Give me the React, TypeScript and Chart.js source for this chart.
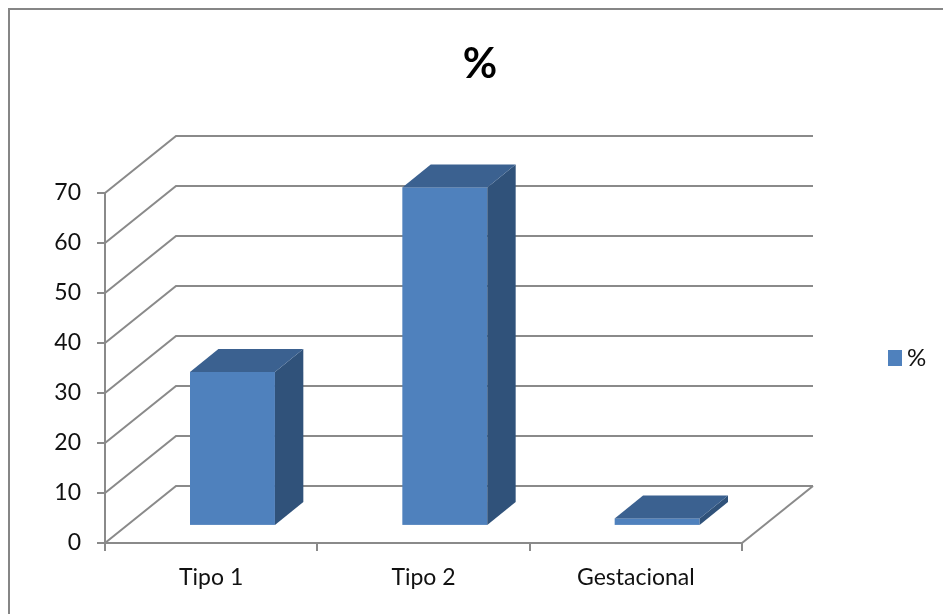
import React, { useEffect, useRef } from "react";
import { Chart, registerables } from "chart.js";

Chart.register(...registerables);

const categories = ["Tipo 1", "Tipo 2", "Gestacional"];
const seriesLabel = "%";
const seriesValues = [30.8, 67.7, 1.5];
const titleText = "%";
const yMin = 0;
const yMax = 70;
const yStep = 10;

const FONT = "Lato, 'Open Sans', sans-serif";
const DX = 71;
const DY = -57;
const GRID = "#8a8a8a";
const FRONT = "#4f81bd";
const TOP = "#3b6190";
const SIDE = "#30527a";

const threeD = {
  id: "threeD",
  beforeDraw(chart: any) {
    const ctx = chart.ctx;
    ctx.save();
    ctx.fillStyle = "#ffffff";
    ctx.fillRect(0, 0, chart.width, chart.height);
    ctx.strokeStyle = "#868686";
    ctx.lineWidth = 2;
    ctx.beginPath();
    ctx.moveTo(9, chart.height + 5);
    ctx.lineTo(9, 9);
    ctx.lineTo(chart.width + 5, 9);
    ctx.stroke();
    ctx.restore();
  },
  beforeDatasetsDraw(chart: any) {
    const ctx = chart.ctx;
    const ys = chart.scales.y;
    const { left, right, bottom } = chart.chartArea;
    ctx.save();
    ctx.strokeStyle = GRID;
    ctx.lineWidth = 2;
    ys.ticks.forEach((t: any) => {
      const yf = ys.getPixelForValue(t.value);
      ctx.beginPath();
      ctx.moveTo(left, yf);
      ctx.lineTo(left + DX, yf + DY);
      ctx.lineTo(right + DX, yf + DY);
      ctx.stroke();
    });
    ctx.beginPath();
    ctx.moveTo(right, bottom);
    ctx.lineTo(right + DX, bottom + DY);
    ctx.stroke();
    ctx.restore();
  },
  afterDatasetsDraw(chart: any) {
    const ctx = chart.ctx;
    const meta = chart.getDatasetMeta(0);
    const f0x = DX * 0.3, f0y = DY * 0.3;
    const bdx = DX * 0.4, bdy = DY * 0.4;
    ctx.save();
    meta.data.forEach((bar: any) => {
      const w = bar.width;
      const x0 = bar.x - w / 2 + f0x;
      const x1 = bar.x + w / 2 + f0x;
      const yt = bar.y + f0y;
      const yb = bar.base + f0y;
      ctx.fillStyle = FRONT;
      ctx.fillRect(x0, yt, x1 - x0, yb - yt);
      ctx.fillStyle = SIDE;
      ctx.beginPath();
      ctx.moveTo(x1, yt);
      ctx.lineTo(x1 + bdx, yt + bdy);
      ctx.lineTo(x1 + bdx, yb + bdy);
      ctx.lineTo(x1, yb);
      ctx.closePath();
      ctx.fill();
      ctx.fillStyle = TOP;
      ctx.beginPath();
      ctx.moveTo(x0, yt);
      ctx.lineTo(x1, yt);
      ctx.lineTo(x1 + bdx, yt + bdy);
      ctx.lineTo(x0 + bdx, yt + bdy);
      ctx.closePath();
      ctx.fill();
    });
    ctx.restore();
  },
  afterDraw(chart: any) {
    const ctx = chart.ctx;
    ctx.save();
    ctx.fillStyle = "#000000";
    ctx.font = `bold 42px ${FONT}`;
    ctx.textAlign = "center";
    ctx.textBaseline = "middle";
    ctx.fillText(titleText, 480, 64);
    ctx.fillStyle = FRONT;
    ctx.fillRect(888, 350, 14, 16);
    ctx.fillStyle = "#111111";
    ctx.font = `24px ${FONT}`;
    ctx.textAlign = "left";
    ctx.fillText(seriesLabel, 907, 358);
    ctx.restore();
  },
};

export default function App() {
  const ref = useRef<HTMLCanvasElement>(null);
  useEffect(() => {
    const canvas = ref.current!;
    const chart = new Chart(canvas, {
      type: "bar",
      data: {
        labels: categories,
        datasets: [
          {
            label: seriesLabel,
            data: seriesValues,
            backgroundColor: "rgba(0,0,0,0)",
            borderWidth: 0,
            barPercentage: 0.4,
            categoryPercentage: 1,
          },
        ],
      },
      options: {
        responsive: false,
        animation: false,
        devicePixelRatio: 1,
        layout: { padding: { top: 193, right: 201, left: 0, bottom: 0 } },
        plugins: { legend: { display: false }, title: { display: false }, tooltip: { enabled: false } },
        scales: {
          x: {
            offset: true,
            grid: { offset: true, drawOnChartArea: false, drawTicks: true, tickLength: 8, color: GRID, lineWidth: 2 },
            border: { display: true, color: GRID, width: 2 },
            ticks: { color: "#111111", font: { family: FONT, size: 23 }, padding: 13 },
            afterFit(scale: any) {
              scale.height = 71;
            },
          },
          y: {
            min: yMin,
            max: yMax,
            grid: { drawOnChartArea: false, drawTicks: true, tickLength: 8, color: GRID, lineWidth: 2 },
            border: { display: true, color: GRID, width: 2 },
            ticks: { stepSize: yStep, color: "#111111", font: { family: FONT, size: 23 }, padding: 16 },
            afterFit(scale: any) {
              scale.width = 105;
            },
          },
        },
      },
      plugins: [threeD],
    });
    return () => chart.destroy();
  }, []);
  return (
    <div style={{ position: "absolute", left: 0, top: 0, width: 943, height: 614 }}>
      <canvas ref={ref} width={943} height={614} />
    </div>
  );
}
